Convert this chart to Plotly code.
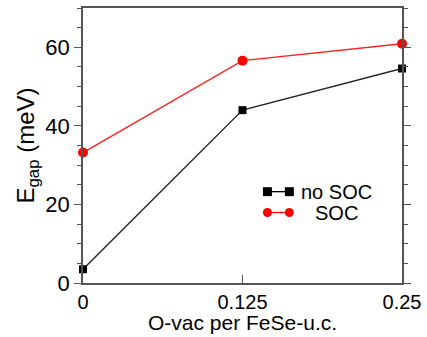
import plotly.graph_objects as go

x_vals = [0, 0.125, 0.25]
no_soc = [3.5, 44.0, 54.6]
soc = [33.2, 56.6, 60.9]
x_ticks = [0, 0.125, 0.25]
x_tick_text = ["0", "0.125", "0.25"]
y_ticks = [0, 20, 40, 60]

FONT = "Liberation Sans, Arial, sans-serif"
AX = "#555555"

fig = go.Figure()
fig.add_trace(go.Scatter(x=x_vals, y=no_soc, mode="lines+markers", name="no SOC",
                         line=dict(color="#222222", width=1.3),
                         marker=dict(symbol="square", size=8, color="black"),
                         cliponaxis=False, showlegend=False))
fig.add_trace(go.Scatter(x=x_vals, y=soc, mode="lines+markers", name="SOC",
                         line=dict(color="#ff2020", width=1.3),
                         marker=dict(symbol="circle", size=10, color="#ff0000"),
                         cliponaxis=False, showlegend=False))

L, R, T, B = 83, 24, 6, 54
W, H = 427, 337
pw, ph = W - L - R, H - T - B

def px2paper(px, py):
    return (px - L) / pw, (H - B - py) / ph

# custom legend (line with markers at both ends)
shapes = []
annotations = []
for (py, color, sym, label, tx) in [(191, "black", "square", "no SOC", 300),
                                    (212, "#ff0000", "circle", "SOC", 314)]:
    x0, y0 = px2paper(268, py)
    x1, _ = px2paper(290, py)
    shapes.append(dict(type="line", xref="paper", yref="paper", x0=x0, x1=x1, y0=y0, y1=y0,
                       line=dict(color=color, width=1.3)))
    hx = 4.5 / pw
    hy = 4.5 / ph
    for cx in (x0, x1):
        shapes.append(dict(type="rect" if sym == "square" else "circle",
                           xref="paper", yref="paper",
                           x0=cx - hx, x1=cx + hx, y0=y0 - hy, y1=y0 + hy,
                           fillcolor=color, line=dict(color=color, width=0)))
    ax, _ = px2paper(tx, py)
    annotations.append(dict(text=label, xref="paper", yref="paper", x=ax, y=y0,
                            xanchor="left", yanchor="middle", showarrow=False,
                            font=dict(family=FONT, size=20, color="black")))

# x-axis title as annotation for precise placement
tx_, ty_ = px2paper(243, 323)
annotations.append(dict(text="O-vac per FeSe-u.c.", xref="paper", yref="paper", x=tx_, y=ty_,
                        xanchor="center", yanchor="middle", showarrow=False, borderpad=0,
                        font=dict(family=FONT, size=21, color="black")))

fig.update_layout(
    width=W, height=H,
    margin=dict(l=L, r=R, t=T, b=B),
    paper_bgcolor="white", plot_bgcolor="white",
    font=dict(family=FONT, color="black"),
    shapes=shapes, annotations=annotations,
    xaxis=dict(range=[0, 0.25], tickvals=x_ticks, ticktext=x_tick_text,
               ticks="inside", ticklen=8, tickcolor=AX, tickwidth=1,
               showline=True, linecolor=AX, linewidth=1.5, mirror=True,
               showgrid=False, zeroline=False,
               tickfont=dict(size=20, family=FONT)),
    yaxis=dict(range=[0, 70], tickvals=y_ticks,
               ticks="outside", ticklen=7, tickcolor=AX, tickwidth=1,
               minor=dict(dtick=5, ticks="outside", ticklen=4, tickcolor=AX),
               showline=True, linecolor=AX, linewidth=1.5, mirror="ticks",
               showgrid=False, zeroline=False,
               tickfont=dict(size=22, family=FONT),
               title=dict(text="E<sub>gap</sub> (meV)", font=dict(size=24, family=FONT), standoff=4)),
)

fig.write_html("out.html")
